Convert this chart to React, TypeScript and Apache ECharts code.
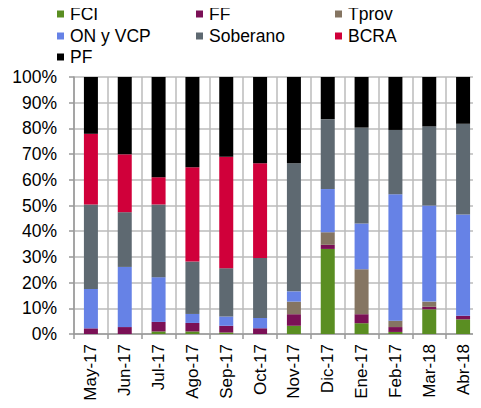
import React, { useEffect, useRef } from "react";
import * as echarts from "echarts";

const categories = ["May-17", "Jun-17", "Jul-17", "Ago-17", "Sep-17", "Oct-17", "Nov-17", "Dic-17", "Ene-17", "Feb-17", "Mar-18", "Abr-18"];
const fci = [0, 0, 1.0, 1.0, 0.6, 0, 3.2, 33.1, 4.2, 0.8, 9.6, 5.7];
const ff = [2.2, 2.7, 3.7, 3.3, 2.6, 2.2, 4.5, 1.6, 3.5, 1.9, 1.0, 1.4];
const tprov = [0, 0, 0, 0, 0, 0, 4.9, 4.9, 17.5, 2.5, 2.0, 0];
const onVcp = [15.3, 23.4, 17.4, 3.5, 3.6, 4.0, 4.0, 16.8, 17.8, 49.2, 37.4, 39.4];
const soberano = [32.9, 21.3, 28.3, 20.4, 18.8, 23.4, 49.8, 27.2, 37.3, 25.0, 30.8, 35.3];
const bcra = [27.5, 22.5, 10.6, 36.7, 43.4, 36.8, 0, 0, 0, 0, 0, 0];
const pf = [22.1, 30.1, 39.0, 35.1, 31.0, 33.6, 33.6, 16.4, 19.7, 20.6, 19.2, 18.2];

const seriesNames = ["FCI", "FF", "Tprov", "ON y VCP", "Soberano", "BCRA", "PF"];
const seriesData = [fci, ff, tprov, onVcp, soberano, bcra, pf];
const colors = ["#5a8e22", "#7b1056", "#857562", "#6682e6", "#5e6971", "#d0003a", "#000000"];

const legendPos = [
  { left: 57, top: 5 },
  { left: 196, top: 5 },
  { left: 335, top: 5 },
  { left: 57, top: 27 },
  { left: 196, top: 27 },
  { left: 335, top: 27 },
  { left: 57, top: 48 },
];

const FONT = "'Liberation Sans', Arial, sans-serif";

export default function App() {
  const ref = useRef<HTMLDivElement>(null);
  useEffect(() => {
    if (!ref.current) return;
    const chart = echarts.init(ref.current, null, { renderer: "svg" });
    chart.setOption({
      animation: false,
      textStyle: { fontFamily: FONT },
      legend: seriesNames.map((n, i) => ({
        data: [n],
        left: legendPos[i].left,
        top: legendPos[i].top,
        icon: "rect",
        itemWidth: 7,
        itemHeight: 7,
        itemGap: 4,
        padding: 0,
        selectedMode: false,
        textStyle: { fontSize: 17.5, color: "#000", fontFamily: FONT, padding: [0, 0, 0, 1] },
      })),
      grid: { left: 74, right: 1, top: 77, bottom: 74, containLabel: false },
      xAxis: {
        type: "category",
        data: categories,
        axisLine: { lineStyle: { color: "#999", width: 1.5 } },
        axisTick: { show: true, length: 5, lineStyle: { color: "#999", width: 1.5 } },
        splitLine: { show: true, lineStyle: { color: "#bbb", width: 1.5 } },
        axisLabel: { rotate: 90, fontSize: 17, color: "#000", margin: 10, fontFamily: FONT, interval: 0 },
      },
      yAxis: {
        type: "value",
        min: 0,
        max: 100,
        interval: 10,
        axisLine: { show: true, lineStyle: { color: "#999", width: 1.5 } },
        axisTick: { show: true, length: 5, lineStyle: { color: "#999", width: 1.5 } },
        splitLine: { show: true, lineStyle: { color: "#bbb", width: 1.5 } },
        axisLabel: { formatter: "{value}%", fontSize: 17.5, color: "#000", margin: 17, fontFamily: FONT },
      },
      series: seriesNames.map((n, i) => ({
        name: n,
        type: "bar",
        stack: "total",
        data: seriesData[i],
        barWidth: 14,
        itemStyle: { color: colors[i] },
      })),
    });
    return () => chart.dispose();
  }, []);
  return <div ref={ref} style={{ width: 481, height: 408, margin: -8 }} />;
}
